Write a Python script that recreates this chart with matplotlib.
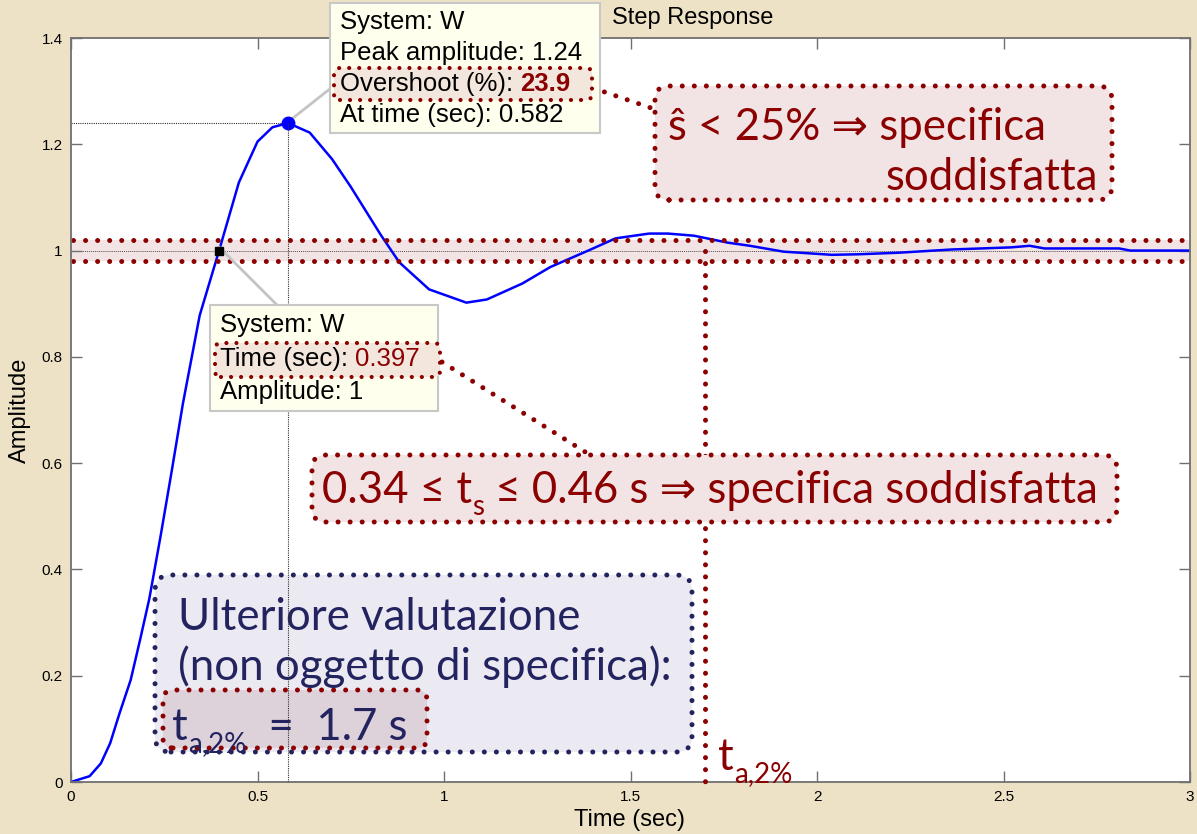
import matplotlib
matplotlib.use('Agg')
import matplotlib.pyplot as plt
from matplotlib.patches import FancyBboxPatch, Rectangle
from matplotlib.lines import Line2D
from matplotlib.transforms import Affine2D

W, H, DPI = 1197, 834, 100

# ---- data ----
time_s = [0.00, 0.05, 0.08, 0.105, 0.13, 0.16, 0.185, 0.21, 0.24, 0.27, 0.30, 0.345,
          0.397, 0.45, 0.50, 0.54, 0.582, 0.64, 0.70, 0.75, 0.83, 0.88, 0.96, 1.06,
          1.115, 1.21, 1.285, 1.39, 1.46, 1.55, 1.60, 1.67, 1.76, 1.82, 1.91, 2.04,
          2.11, 2.22, 2.36, 2.52, 2.57, 2.61, 2.81, 2.84, 3.00]
amplitude = [0.000, 0.011, 0.035, 0.073, 0.129, 0.192, 0.267, 0.345, 0.462, 0.585, 0.712, 0.878,
             1.000, 1.128, 1.205, 1.232, 1.240, 1.222, 1.172, 1.120, 1.030, 0.978, 0.927, 0.902,
             0.908, 0.938, 0.969, 1.001, 1.023, 1.032, 1.032, 1.028, 1.015, 1.009, 0.998, 0.992,
             0.993, 0.996, 1.002, 1.006, 1.009, 1.004, 1.004, 1.000, 1.000]
peak_time, peak_amp = 0.582, 1.24
overshoot_pct = 23.9
cross_time, cross_amp = 0.397, 1.0
settling_time = 1.7
band_low, band_high = 0.98, 1.02
xticks = [0, 0.5, 1, 1.5, 2, 2.5, 3]
xticklabels = ['0', '0.5', '1', '1.5', '2', '2.5', '3']
yticks = [0, 0.2, 0.4, 0.6, 0.8, 1.0, 1.2, 1.4]
yticklabels = ['0', '0.2', '0.4', '0.6', '0.8', '1', '1.2', '1.4']

RED = '#8B0000'
NAVY = '#23235F'
BG = '#EDE2C6'
MFONT = 'Liberation Sans'
BIG = ['Lato', 'DejaVu Sans']
BIGSIZE = 31.5
SUBSIZE = 20

fig = plt.figure(figsize=(W / DPI, H / DPI), dpi=DPI)
fig.patch.set_facecolor(BG)
ax = fig.add_axes([71 / W, 1 - 782 / H, (1190 - 71) / W, (782 - 38) / H])
ax.set_xlim(0, 3)
ax.set_ylim(0, 1.4)
ax.set_xticks(xticks)
ax.set_xticklabels(xticklabels, fontfamily=MFONT)
ax.set_yticks(yticks)
ax.set_yticklabels(yticklabels, fontfamily=MFONT)
ax.tick_params(direction='in', length=8, width=1, top=True, right=True,
               labelsize=11, color='#707070', pad=6)
for s in ax.spines.values():
    s.set_color('#707070')
    s.set_linewidth(1.3)

PX = Affine2D().scale(1 / DPI) + fig.dpi_scale_trans


def fy(y):
    return H - y


def box(x0, y0, x1, y1, fc, ec, z, r=14, alpha=1.0, lw=3.6):
    f = FancyBboxPatch((x0, fy(y1)), x1 - x0, y1 - y0,
                       boxstyle=f"round,pad=0,rounding_size={r}",
                       transform=PX, facecolor=fc, edgecolor='none', alpha=alpha,
                       zorder=z, clip_on=False)
    ax.add_patch(f)
    e = FancyBboxPatch((x0, fy(y1)), x1 - x0, y1 - y0,
                       boxstyle=f"round,pad=0,rounding_size={r}",
                       transform=PX, facecolor='none', edgecolor=ec,
                       linewidth=lw, linestyle=(0, (0.01, 2.4)), capstyle='round',
                       zorder=z + 0.01, clip_on=False)
    ax.add_patch(e)


def dotline(xs, ys, color, z, transform=None):
    ln = Line2D(xs, ys, color=color, lw=3.6, linestyle=(0, (0.01, 2.4)),
                dash_capstyle='round', solid_capstyle='round', zorder=z, clip_on=False,
                transform=transform if transform is not None else ax.transData)
    ax.add_line(ln)


def pxline(x0, y0, x1, y1, color, z, lw=2.0):
    ax.add_line(Line2D([x0, x1], [fy(y0), fy(y1)], color=color, lw=lw,
                       transform=PX, zorder=z, clip_on=False))


def chain(x, y, parts, color, z, family=BIG, weight='normal'):
    prev = None
    arts = []
    for s, size, dy in parts:
        if prev is None:
            a = ax.text(x, fy(y + dy), s, transform=PX, fontsize=size, va='baseline',
                        ha='left', color=color, family=family, fontweight=weight,
                        zorder=z, clip_on=False)
        else:
            a = ax.annotate(s, xy=(1, fy(y + dy)), xycoords=(prev, PX), fontsize=size,
                            va='baseline', ha='left', color=color, family=family,
                            fontweight=weight, zorder=z, annotation_clip=False)
        arts.append(a)
        prev = a
    return arts


# tolerance band
ax.axhspan(band_low, band_high, color='#F2E4E4', zorder=1, lw=0)
# reference lines
ax.plot([0, peak_time], [peak_amp, peak_amp], ls=(0, (1, 1)), color='#303030', lw=0.8, zorder=1.5)
ax.plot([peak_time, peak_time], [0, peak_amp], ls=(0, (1, 1)), color='#303030', lw=0.8, zorder=4.6)
ax.plot([0, 3], [1.0, 1.0], ls=(0, (1, 1)), color='#505050', lw=0.7, zorder=1.5)

# gray datatip connectors (under the markers)
pxline(288, 122, 331, 88, '#C4C4C4', 2.8)
pxline(219, 247, 277, 305, '#C4C4C4', 2.8)

# response
ax.plot(time_s, amplitude, color='#0000FF', lw=1.8, zorder=2)
ax.plot([peak_time], [peak_amp], 'o', color='#0000FF', ms=9, zorder=3)
ax.plot([cross_time], [cross_amp], 's', color='black', ms=6, zorder=3)

# band dotted edges
dotline([0.005, 3.0], [band_high, band_high], RED, 2.5)
dotline([0.005, 3.0], [band_low, band_low], RED, 2.5)
# settling time vertical
dotline([settling_time, settling_time], [1.0, -0.008], RED, 3)

# ---- datatip 1 (peak) ----
ax.add_patch(Rectangle((330, fy(133)), 270, 130, transform=PX, facecolor='#FFFFEE',
                       edgecolor='#C8C8C8', lw=1.5, zorder=6, clip_on=False))
box(334, 68, 592, 100, '#F3E6DC', RED, 6.1, r=6, lw=3.0)
for yy, s in [(22, 'System: W'), (53, 'Peak amplitude: 1.24'), (115, 'At time (sec): 0.582')]:
    ax.text(340, fy(yy), s, transform=PX, fontsize=18.5, family=MFONT, va='center',
            ha='left', zorder=6.2, clip_on=False)
t1 = ax.text(340, fy(84), 'Overshoot (%): ', transform=PX, fontsize=18.5, family=MFONT,
             va='center', ha='left', zorder=6.2, clip_on=False)
ax.annotate(f'{overshoot_pct}', xy=(1, 0.5), xycoords=t1, fontsize=18.5, family=MFONT,
            va='center', ha='left', color=RED, fontweight='bold', zorder=6.2,
            annotation_clip=False)

# ---- datatip 2 (crossing) ----
ax.add_patch(Rectangle((210, fy(411)), 228, 106, transform=PX, facecolor='#FFFFEE',
                       edgecolor='#C8C8C8', lw=1.5, zorder=6, clip_on=False))
box(215, 343, 440, 377, '#F3E6DC', RED, 6.1, r=6, lw=3.0)
ax.text(220, fy(325), 'System: W', transform=PX, fontsize=18.5, family=MFONT, va='center',
        ha='left', zorder=6.2, clip_on=False)
ax.text(220, fy(392), 'Amplitude: 1', transform=PX, fontsize=18.5, family=MFONT, va='center',
        ha='left', zorder=6.2, clip_on=False)
t2 = ax.text(220, fy(359), 'Time (sec): ', transform=PX, fontsize=18.5, family=MFONT,
             va='center', ha='left', zorder=6.2, clip_on=False)
ax.annotate(f'{cross_time}', xy=(1, 0.5), xycoords=t2, fontsize=18.5, family=MFONT,
            va='center', ha='left', color=RED, zorder=6.2, annotation_clip=False)

# ---- red connectors ----
dotline([593, 657], [fy(88), fy(110)], RED, 5, transform=PX)
dotline([442, 590], [fy(362), fy(455)], RED, 5, transform=PX)

# ---- box 1: overshoot spec ----
box(655, 86, 1112, 200, '#F2E4E4', RED, 5, r=14)
chain(668, 140, [('ŝ < 25% ⇒ specifica', BIGSIZE, 0)], RED, 5.2)
ax.text(1098, fy(190), 'soddisfatta', transform=PX, fontsize=BIGSIZE, family=BIG,
        va='baseline', ha='right', color=RED, zorder=5.2, clip_on=False)

# ---- box 2: settling/crossing spec ----
box(312, 455, 1117, 522, '#F2E4E4', RED, 5, r=14)
chain(322, 503, [('0.34 ≤ t', BIGSIZE, 0), ('s', SUBSIZE, 12),
                 (' ≤ 0.46 s ⇒ specifica soddisfatta', BIGSIZE, 0)], RED, 5.2)

# ---- box 3: further evaluation ----
box(155, 575, 692, 752, '#E8E6EF', NAVY, 4, r=16, alpha=0.85)
box(163, 690, 427, 748, '#DCCFD6', RED, 4.2, r=10, alpha=0.85)
ax.text(178, fy(630), 'Ulteriore valutazione', transform=PX, fontsize=BIGSIZE, family=BIG,
        va='baseline', ha='left', color=NAVY, zorder=4.3, clip_on=False)
ax.text(178, fy(680), '(non oggetto di specifica):', transform=PX, fontsize=BIGSIZE,
        family=BIG, va='baseline', ha='left', color=NAVY, zorder=4.3, clip_on=False)
chain(172, 740, [('t', BIGSIZE, 0), ('a,2%', SUBSIZE, 12), ('  =  1.7 s', BIGSIZE, 0)],
      NAVY, 4.3)

# ---- t_a,2% label ----
chain(718, 770, [('t', BIGSIZE, 0), ('a,2%', SUBSIZE, 12)], RED, 5.2)

# ---- titles ----
ax.text(612, fy(18), 'Step Response', transform=PX, fontsize=17, family=MFONT, va='center',
        ha='left', zorder=1, clip_on=False)
ax.text(630, fy(820), 'Time (sec)', transform=PX, fontsize=17, family=MFONT, va='center',
        ha='center', clip_on=False)
ax.text(20, fy(410), 'Amplitude', transform=PX, fontsize=17, family=MFONT, va='center',
        ha='center', rotation=90, clip_on=False)

fig.savefig('out.png', dpi=DPI, facecolor=BG)
